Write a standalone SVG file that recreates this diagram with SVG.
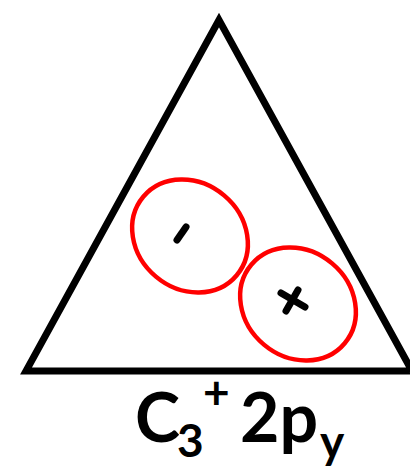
<svg xmlns="http://www.w3.org/2000/svg" width="410" height="467" viewBox="0 0 410 467">
<style>
.tri{fill:none;stroke:#000;stroke-width:7;stroke-linejoin:miter}
.lobe{fill:none;stroke:#f00;stroke-width:4.5}
.sign{stroke:#000;stroke-width:7;stroke-linecap:round;fill:none}
.lbl{font-family:Lato,"Open Sans",sans-serif;font-weight:bold;fill:#000}
</style>
<rect width="410" height="467" fill="#fff"/>
<g id="triangle">
<polygon class="tri" points="219,20 26,371 412,371"/>
</g>
<g id="lobe-minus">
<ellipse class="lobe" cx="190" cy="236" rx="61" ry="53" transform="rotate(40 190 236)"/>
<line class="sign" x1="177" y1="240" x2="186" y2="227"/>
</g>
<g id="lobe-plus">
<ellipse class="lobe" cx="298" cy="304" rx="61" ry="53" transform="rotate(40 298 304)"/>
<line class="sign" x1="281" y1="293" x2="305" y2="307"/>
<line class="sign" x1="298" y1="290" x2="286" y2="311"/>
</g>
<g id="label">
<text class="lbl" x="135" y="442" font-size="68">C</text>
<text class="lbl" x="177" y="457" font-size="46">3</text>
<text class="lbl" x="203" y="409" font-size="46">+</text>
<text class="lbl" x="240" y="442" font-size="68">2p</text>
<text class="lbl" x="320" y="458" font-size="46">y</text>
</g>
</svg>
